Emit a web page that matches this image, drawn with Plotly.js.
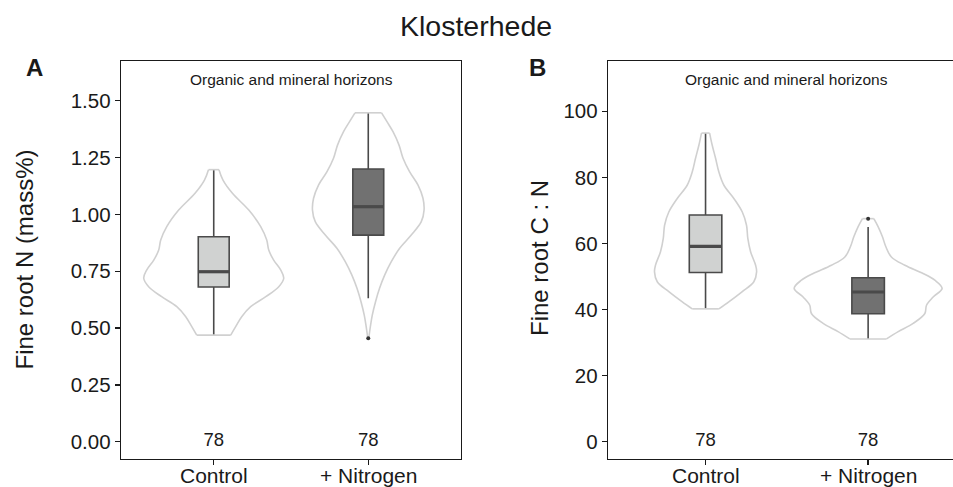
<!DOCTYPE html>
<html><head><meta charset="utf-8">
<script src="https://cdn.plot.ly/plotly-3.0.1.min.js"></script>
<style>html,body{margin:0;padding:0;background:#fff}#chart{width:953px;height:487px}</style>
</head><body><div id="chart"></div>
<script>
// ---------- data ----------
const categories = ['Control', '+ Nitrogen'];
const catPos = [1, 2];
const counts = [78, 78];

// Panel A: fine root N (mass%)
const nQ1 = [0.681, 0.909];
const nMedian = [0.748, 1.034];
const nQ3 = [0.902, 1.200];
const nLower = [0.469, 0.631];
const nUpper = [1.197, 1.447];
const nOutlierCat = [2];
const nOutlierVal = [0.455];
// violin outlines (level, half width in category units)
const nCtrlLevels = [1.197,1.151,1.093,1.019,0.946,0.887,0.843,0.799,0.755,0.719,0.682,0.638,0.594,0.550,0.506,0.469];
const nCtrlHalf   = [0.034,0.060,0.121,0.227,0.304,0.343,0.356,0.388,0.434,0.453,0.421,0.337,0.239,0.181,0.142,0.110];
const nNitLevels  = [1.447,1.408,1.364,1.305,1.247,1.188,1.129,1.071,1.019,0.968,0.909,0.851,0.792,0.733,0.675,0.616,0.557,0.513,0.455];
const nNitHalf    = [0.086,0.121,0.160,0.199,0.225,0.267,0.322,0.354,0.361,0.343,0.278,0.203,0.149,0.106,0.073,0.047,0.026,0.015,0.003];

// Panel B: fine root C:N
const cnQ1 = [51.2, 38.7];
const cnMedian = [59.1, 45.3];
const cnQ3 = [68.6, 49.6];
const cnLower = [40.2, 31.1];
const cnUpper = [93.4, 65.0];
const cnOutlierCat = [2];
const cnOutlierVal = [67.5];
const cnCtrlLevels = [93.4,89.7,85.7,81.6,77.6,73.6,69.5,65.5,61.5,57.5,53.4,51.4,48.4,45.4,42.3,40.2];
const cnCtrlHalf   = [0.025,0.041,0.062,0.082,0.113,0.174,0.226,0.252,0.260,0.277,0.308,0.314,0.297,0.226,0.143,0.082];
const cnNitLevels  = [67.5,65.0,62.0,59.0,55.9,53.4,50.9,48.9,46.4,43.8,41.3,38.8,35.8,33.3,31.1];
const cnNitHalf    = [0.035,0.062,0.088,0.109,0.143,0.226,0.338,0.410,0.455,0.400,0.359,0.349,0.277,0.185,0.113];

const yTicksA = [0, 0.25, 0.5, 0.75, 1.0, 1.25, 1.5];
const yTicksB = [0, 20, 40, 60, 80, 100];

// ---------- styles ----------
const FONT = 'Liberation Sans, Arial, Helvetica, sans-serif';
const INK = '#1a1a1a';
const BOXLINE = '#4a4a4a';
const VIOLIN = '#d0d0d0';
const FILLS = ['#d0d2d1', '#717171'];
const BOX_HALF = 0.1;

function violinTraces(pos, levels, half, xa, ya) {
  const sx = [], sy = [];
  levels.forEach((l, i) => { sx.push(pos + half[i]); sy.push(l); });
  sx.push(null); sy.push(null);
  levels.forEach((l, i) => { sx.push(pos - half[i]); sy.push(l); });
  const n = levels.length - 1;
  const cx = [pos - half[0], pos + half[0], null, pos - half[n], pos + half[n]];
  const cy = [levels[0], levels[0], null, levels[n], levels[n]];
  return [
    {type:'scatter', mode:'lines', x:sx, y:sy, xaxis:xa, yaxis:ya, line:{color:VIOLIN, width:1.6, shape:'spline', smoothing:1}, connectgaps:false, hoverinfo:'skip', showlegend:false},
    {type:'scatter', mode:'lines', x:cx, y:cy, xaxis:xa, yaxis:ya, line:{color:VIOLIN, width:1.6}, connectgaps:false, hoverinfo:'skip', showlegend:false}
  ];
}

function panelTraces(q1, med, q3, lo, hi, outCat, outVal, vLevels, vHalf, xa, ya) {
  const t = [];
  for (let i = 0; i < 2; i++) t.push(...violinTraces(catPos[i], vLevels[i], vHalf[i], xa, ya));
  for (let i = 0; i < 2; i++) {
    t.push({type:'box', x:[catPos[i]], q1:[q1[i]], median:[med[i]], q3:[q3[i]], lowerfence:[lo[i]], upperfence:[hi[i]],
      width: 2*BOX_HALF, whiskerwidth:0, boxpoints:false, fillcolor:FILLS[i], line:{color:BOXLINE, width:1.6},
      xaxis:xa, yaxis:ya, hoverinfo:'skip', showlegend:false});
    t.push({type:'scatter', mode:'lines', x:[catPos[i]-BOX_HALF, catPos[i]+BOX_HALF], y:[med[i], med[i]],
      line:{color:BOXLINE, width:3.2}, xaxis:xa, yaxis:ya, hoverinfo:'skip', showlegend:false});
  }
  t.push({type:'scatter', mode:'markers', x:outCat, y:outVal, marker:{color:'#333', size:4}, xaxis:xa, yaxis:ya, hoverinfo:'skip', showlegend:false});
  t.push({type:'scatter', mode:'text', x:catPos, y:catPos.map(() => 0), text:counts.map(String), textposition:'middle center',
    textfont:{family:FONT, size:18.5, color:INK}, xaxis:xa, yaxis:ya, hoverinfo:'skip', showlegend:false});
  return t;
}

const data = [
  ...panelTraces(nQ1, nMedian, nQ3, nLower, nUpper, nOutlierCat, nOutlierVal, [nCtrlLevels, nNitLevels], [nCtrlHalf, nNitHalf], 'x', 'y'),
  ...panelTraces(cnQ1, cnMedian, cnQ3, cnLower, cnUpper, cnOutlierCat, cnOutlierVal, [cnCtrlLevels, cnNitLevels], [cnCtrlHalf, cnNitHalf], 'x2', 'y2')
];

const W = 953, H = 487;
const yDom = [(H - 459) / H, (H - 61) / H];
const axCommon = {showline:true, linecolor:INK, linewidth:1.3, ticks:'outside', ticklen:5, tickwidth:1.3, tickcolor:INK,
  showgrid:false, zeroline:false, tickfont:{family:FONT, size:20.5, color:INK}, fixedrange:true};

const catLabels = [];
['x', 'x2'].forEach(xr => {
  categories.forEach((c, i) => catLabels.push({text:c, xref:xr, yref:'paper', x:catPos[i], y:(H-475)/H,
    xanchor:'center', yanchor:'middle', showarrow:false, font:{family:FONT, size:21, color:INK}}));
});

const layout = {
  width: W, height: H,
  margin: {l:0, r:0, t:0, b:0},
  paper_bgcolor:'#fff', plot_bgcolor:'#fff',
  showlegend:false,
  boxmode:'overlay',
  xaxis: Object.assign({}, axCommon, {domain:[121/W, 461/W], range:[0.4, 2.6], tickvals:catPos, showticklabels:false, mirror:true, anchor:'y'}),
  yaxis: Object.assign({}, axCommon, {domain:yDom, range:[-0.076, 1.675], tickvals:yTicksA, tickformat:'.2f', mirror:true, anchor:'x'}),
  xaxis2: Object.assign({}, axCommon, {domain:[608/W, 1], range:[0.4, 2.522], tickvals:catPos, showticklabels:false, mirror:true, anchor:'y2'}),
  yaxis2: Object.assign({}, axCommon, {domain:yDom, range:[-5.23, 115.2], tickvals:yTicksB, mirror:false, anchor:'x2'}),
  annotations: [
    {text:'Klosterhede', xref:'paper', yref:'paper', x:475.5/W, y:(H-26)/H, xanchor:'center', yanchor:'middle', showarrow:false, font:{family:FONT, size:28.5, color:INK}},
    {text:'<b>A</b>', xref:'paper', yref:'paper', x:34/W, y:(H-68)/H, xanchor:'center', yanchor:'middle', showarrow:false, font:{family:FONT, size:24, color:INK}},
    {text:'<b>B</b>', xref:'paper', yref:'paper', x:537/W, y:(H-68)/H, xanchor:'center', yanchor:'middle', showarrow:false, font:{family:FONT, size:24, color:INK}},
    {text:'Fine root N (mass%)', xref:'paper', yref:'paper', x:24/W, y:(H-259.5)/H, textangle:-90, xanchor:'center', yanchor:'middle', showarrow:false, font:{family:FONT, size:24, color:INK}},
    {text:'Fine root C : N', xref:'paper', yref:'paper', x:539/W, y:(H-258)/H, textangle:-90, xanchor:'center', yanchor:'middle', showarrow:false, font:{family:FONT, size:24, color:INK}},
    {text:'Organic and mineral horizons', xref:'x', yref:'y', x:1.5, y:1.594, xanchor:'center', yanchor:'middle', showarrow:false, font:{family:FONT, size:15.5, color:INK}},
    {text:'Organic and mineral horizons', xref:'x2', yref:'y2', x:1.5, y:109.6, xanchor:'center', yanchor:'middle', showarrow:false, font:{family:FONT, size:15.5, color:INK}},
    ...catLabels
  ]
};

Plotly.newPlot('chart', data, layout, {staticPlot:true, displayModeBar:false});
</script>
</body></html>
